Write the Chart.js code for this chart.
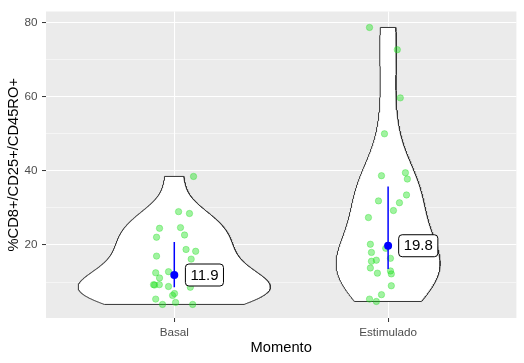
<!DOCTYPE html>
<html><head><meta charset="utf-8">
<script src="https://cdn.jsdelivr.net/npm/chart.js@4/dist/chart.umd.min.js"></script>
<style>html,body{margin:0;padding:0;background:#fff;}canvas{display:block;}</style>
</head><body>
<canvas id="c" width="524" height="363"></canvas>
<script>
// ---- data ----
const categories = ['Basal', 'Estimulado'];
const basalValues = [38.5, 29.0, 28.5, 24.5, 24.7, 22.1, 22.7, 18.8, 18.3, 17.0, 16.2, 12.5, 12.8, 11.1, 9.3, 9.2, 9.3, 8.8, 8.6, 6.9, 6.4, 5.4, 3.96, 4.5, 3.96];
const basalJitter = [0.090, 0.020, 0.071, -0.069, 0.029, -0.083, 0.048, 0.055, 0.100, -0.083, 0.079, -0.087, -0.027, -0.069, -0.097, -0.092, -0.070, -0.027, 0.075, 0.001, -0.008, -0.087, -0.055, 0.006, 0.086];
const estimValues = [78.7, 72.7, 59.7, 50.0, 38.7, 39.5, 37.8, 33.5, 31.9, 31.4, 29.3, 27.4, 20.2, 19.1, 18.0, 16.4, 15.9, 15.6, 13.8, 13.0, 12.2, 12.4, 9.0, 6.6, 5.4, 4.76];
const estimJitter = [-0.087, 0.043, 0.057, -0.017, -0.031, 0.081, 0.090, 0.086, -0.045, 0.053, 0.025, -0.092, -0.083, -0.011, -0.078, 0.011, -0.055, -0.078, -0.083, 0.011, 0.015, -0.050, 0.015, -0.031, -0.087, -0.055];
const medians = [11.9, 19.8];
const lowerQ = [8.6, 13.5];
const upperQ = [20.8, 35.8];
const yMajorTicks = [20, 40, 60, 80];
const yMinorTicks = [10, 30, 50, 70];

const groups = [basalValues, estimValues];
const jitters = [basalJitter, estimJitter];

// ---- kernel density (like ggplot2 geom_violin, trim = TRUE, scale = "area") ----
function q7(s, p) { const h = (s.length - 1) * p, lo = Math.floor(h); const hi = Math.min(lo + 1, s.length - 1); return s[lo] + (h - lo) * (s[hi] - s[lo]); }
function bwNrd0(v) {
  const n = v.length, m = v.reduce((a, b) => a + b, 0) / n;
  const sd = Math.sqrt(v.reduce((a, b) => a + (b - m) * (b - m), 0) / (n - 1));
  const s = [...v].sort((a, b) => a - b);
  const iqr = q7(s, 0.75) - q7(s, 0.25);
  return 0.9 * Math.min(sd, iqr / 1.34) * Math.pow(n, -0.2);
}
function kde(v, nGrid) {
  const bw = bwNrd0(v), mn = Math.min(...v), mx = Math.max(...v), out = [];
  for (let i = 0; i < nGrid; i++) {
    const y = mn + (mx - mn) * i / (nGrid - 1);
    let s = 0;
    for (const xi of v) { const z = (y - xi) / bw; s += Math.exp(-0.5 * z * z); }
    out.push({ y, d: s / (v.length * bw * Math.sqrt(2 * Math.PI)) });
  }
  return out;
}
const dens = groups.map(g => kde(g, 512));
const dMax = Math.max(...dens.map(d => Math.max(...d.map(p => p.d))));

const datasets = [];
dens.forEach((d, i) => {
  const c = i + 1;
  const left = d.map(p => ({ x: c - 0.45 * p.d / dMax, y: p.y }));
  const right = d.slice().reverse().map(p => ({ x: c + 0.45 * p.d / dMax, y: p.y }));
  const outline = left.concat(right, [left[0]]);
  datasets.push({ type: 'line', data: outline, showLine: true, fill: 'shape', backgroundColor: '#FFFFFF', borderColor: '#333333', borderWidth: 1, pointRadius: 0, tension: 0, order: 10 });
});
groups.forEach((g, i) => {
  datasets.push({ type: 'scatter', data: g.map((v, k) => ({ x: i + 1 + jitters[i][k], y: v })), pointRadius: 3.2, backgroundColor: 'rgba(30,225,30,0.42)', borderColor: 'rgba(30,225,30,0.42)', borderWidth: 0.8, order: 8 });
});
medians.forEach((m, i) => {
  datasets.push({ type: 'line', data: [{ x: i + 1, y: lowerQ[i] }, { x: i + 1, y: upperQ[i] }], showLine: true, fill: false, borderColor: '#0000FF', borderWidth: 1.5, pointRadius: 0, order: 6 });
});
datasets.push({ type: 'scatter', data: medians.map((m, i) => ({ x: i + 1, y: m })), pointRadius: 4, backgroundColor: '#0000FF', borderColor: '#0000FF', borderWidth: 0, order: 4 });

const panelBg = {
  id: 'panelBg',
  beforeDraw(chart) {
    const { ctx, chartArea: a } = chart;
    ctx.save(); ctx.fillStyle = '#EBEBEB'; ctx.fillRect(a.left, a.top, a.right - a.left, a.bottom - a.top); ctx.restore();
  }
};
const labelPlugin = {
  id: 'medLabels',
  afterDatasetsDraw(chart) {
    const { ctx, scales: { x, y } } = chart;
    ctx.save();
    ctx.font = '15px "Liberation Sans", Arial, sans-serif';
    ctx.textAlign = 'center'; ctx.textBaseline = 'middle';
    medians.forEach((m, i) => {
      const txt = m.toFixed(1);
      const cx = x.getPixelForValue(i + 1 + 0.141), cy = y.getPixelForValue(m);
      const w = ctx.measureText(txt).width + 10, h = 22;
      ctx.beginPath(); ctx.roundRect(cx - w / 2, cy - h / 2, w, h, 3.5);
      ctx.fillStyle = '#FFFFFF'; ctx.fill();
      ctx.lineWidth = 1; ctx.strokeStyle = '#000000'; ctx.stroke();
      ctx.fillStyle = '#000000'; ctx.fillText(txt, cx, cy + 0.5);
    });
    ctx.restore();
  }
};

const font = { family: '"Liberation Sans", Arial, sans-serif' };
new Chart(document.getElementById('c'), {
  type: 'scatter',
  data: { datasets },
  options: {
    responsive: false, animation: false, events: [],
    layout: { padding: { left: 0, top: 7, right: 7.6, bottom: 0 } },
    plugins: { legend: { display: false }, tooltip: { enabled: false } },
    scales: {
      x: {
        type: 'linear', min: 0.4, max: 2.6,
        afterBuildTicks: s => { s.ticks = categories.map((c, i) => ({ value: i + 1 })); },
        afterFit: s => { s.height = 45; },
        ticks: { callback: v => categories[v - 1], color: '#4D4D4D', font: { ...font, size: 11.7 }, padding: 3.5, maxRotation: 0, autoSkip: false },
        grid: { color: '#FFFFFF', lineWidth: 1.07, tickColor: '#333333', tickWidth: 1, tickLength: 4 },
        border: { display: false },
        title: { display: true, text: 'Momento', color: '#000000', font: { ...font, size: 14.7 }, padding: { top: 0, bottom: 6.5 } }
      },
      y: {
        type: 'linear', min: 0.3, max: 83.0,
        afterBuildTicks: s => { s.ticks = yMinorTicks.concat(yMajorTicks).sort((a, b) => a - b).map(v => ({ value: v })); },
        afterFit: s => { s.width = 46; },
        ticks: { callback: v => yMajorTicks.includes(v) ? String(v) : '', color: '#4D4D4D', font: { ...font, size: 11.7 }, padding: 4.5, autoSkip: false },
        grid: {
          color: '#FFFFFF',
          lineWidth: c => yMajorTicks.includes(c.tick && c.tick.value) ? 1.07 : 0.53,
          tickColor: c => yMajorTicks.includes(c.tick && c.tick.value) ? '#333333' : 'rgba(0,0,0,0)',
          tickWidth: 1, tickLength: 4
        },
        border: { display: false },
        title: { display: true, text: '%CD8+/CD25+/CD45RO+', color: '#000000', font: { ...font, size: 14.7 }, padding: { top: 5.2, bottom: 0 } }
      }
    }
  },
  plugins: [panelBg, labelPlugin]
});
</script>
</body></html>
